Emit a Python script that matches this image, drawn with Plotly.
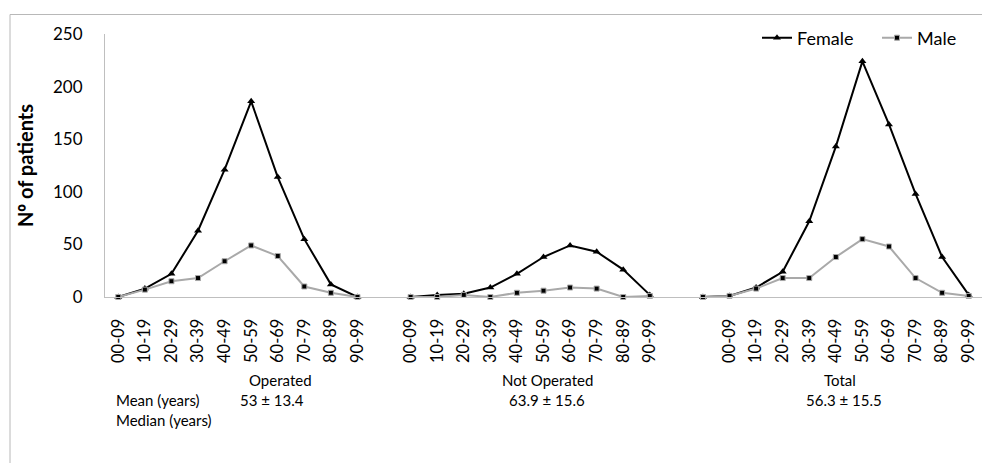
import plotly.graph_objects as go

# ---------------- data ----------------
age_groups = ["00-09", "10-19", "20-29", "30-39", "40-49",
              "50-59", "60-69", "70-79", "80-89", "90-99"]
total_categories = [""] + age_groups  # Total block has an extra unlabeled slot

operated_female = [0, 8, 22, 63, 121, 186, 114, 55, 12, 0]
operated_male = [0, 7, 15, 18, 34, 49, 39, 10, 4, 0]
not_operated_female = [0, 2, 3, 9, 22, 38, 49, 43, 26, 2]
not_operated_male = [0, 0, 2, 0, 4, 6, 9, 8, 0, 1]
total_female = [0, 1, 9, 24, 72, 143, 224, 164, 98, 38, 2]
total_male = [0, 1, 8, 18, 18, 38, 55, 48, 18, 4, 1]

group_names = ["Operated", "Not Operated", "Total"]
mean_values = ["53 ± 13.4", "63.9 ± 15.6", "56.3 ± 15.5"]
y_ticks = [0, 50, 100, 150, 200, 250]

# --------------- build series (gap slot between groups) ---------------
x_labels = age_groups + [""] + age_groups + [""] + total_categories
female_y = operated_female + [None] + not_operated_female + [None] + total_female
male_y = operated_male + [None] + not_operated_male + [None] + total_male
positions = list(range(len(x_labels)))

FONT = "Lato"

fig = go.Figure()
fig.add_trace(go.Scatter(
    x=positions, y=female_y, name="Female", mode="lines+markers",
    line=dict(color="#000000", width=2),
    marker=dict(symbol="triangle-up", size=7, color="#000000"),
    connectgaps=False, cliponaxis=False))
fig.add_trace(go.Scatter(
    x=positions, y=male_y, name="Male", mode="lines+markers",
    line=dict(color="#a9a9a9", width=2),
    marker=dict(symbol="square", size=5, color="#000000",
                line=dict(color="#a9a9a9", width=1)),
    connectgaps=False, cliponaxis=False))

W, H = 982, 463
L, R, T, B = 105, 0, 34, 166
pw, ph = W - L - R, H - T - B


def px_x(px):
    return (px - L) / pw


def px_y(py):
    return (T + ph - py) / ph


ann = []
label_font = dict(family=FONT, size=15, color="#000000")
centers = [280, 547, 840]
val_centers = [272, 547, 844]
for name, val, cx, vx in zip(group_names, mean_values, centers, val_centers):
    ann.append(dict(text=name, x=px_x(cx), y=px_y(380), xref="paper", yref="paper",
                    xanchor="center", yanchor="middle", showarrow=False, font=label_font))
    ann.append(dict(text=val, x=px_x(vx), y=px_y(400), xref="paper", yref="paper",
                    xanchor="center", yanchor="middle", showarrow=False, font=label_font))
ann.append(dict(text="Mean (years)", x=px_x(114), y=px_y(400), xref="paper", yref="paper",
                xanchor="left", yanchor="middle", showarrow=False, font=label_font))
ann.append(dict(text="Median (years)", x=px_x(114), y=px_y(420), xref="paper", yref="paper",
                xanchor="left", yanchor="middle", showarrow=False, font=label_font))

frame_color = "#b8b8b8"
shapes = [
    dict(type="line", xref="paper", yref="paper",
         x0=px_x(10), x1=px_x(10), y0=px_y(463), y1=px_y(14.5),
         line=dict(color=frame_color, width=1)),
    dict(type="line", xref="paper", yref="paper",
         x0=px_x(10), x1=px_x(990), y0=px_y(14.5), y1=px_y(14.5),
         line=dict(color=frame_color, width=1)),
]

fig.update_layout(
    width=W, height=H,
    margin=dict(l=L, r=R, t=T, b=B, autoexpand=False),
    paper_bgcolor="white", plot_bgcolor="white",
    font=dict(family=FONT, color="#000000"),
    showlegend=True,
    legend=dict(orientation="h", x=px_x(757), y=px_y(38), xanchor="left", yanchor="middle",
                font=dict(family=FONT, size=18, color="#000000"),
                bgcolor="rgba(0,0,0,0)", itemwidth=30, tracegroupgap=0,
                entrywidth=75),
    xaxis=dict(range=[-0.5, len(x_labels) - 0.5], tickmode="array",
               tickvals=positions, ticktext=x_labels, tickangle=-90,
               tickfont=dict(family=FONT, size=16.5, color="#000000"),
               showline=True, linecolor="#bfbfbf", linewidth=1, automargin=False,
               showgrid=False, zeroline=False, ticks="", ticklabelstandoff=14),
    yaxis=dict(range=[0, 250], tickmode="array", tickvals=y_ticks,
               tickfont=dict(family=FONT, size=17, color="#000000"),
               showline=True, linecolor="#bfbfbf", linewidth=1, automargin=False,
               showgrid=False, zeroline=False, ticks="", ticklabelstandoff=18,
               title=dict(text="<b>N<span style='font-family:Noto Sans'>º</span> of patients</b>",
                          font=dict(family=FONT, size=20, color="#000000"),
                          standoff=14)),
    annotations=ann,
    shapes=shapes,
)

fig.write_html(
    "out.html",
    config={"displayModeBar": False},
    post_script="document.body.style.margin='0';document.body.style.padding='0';"
                "document.body.style.overflow='hidden';",
)
